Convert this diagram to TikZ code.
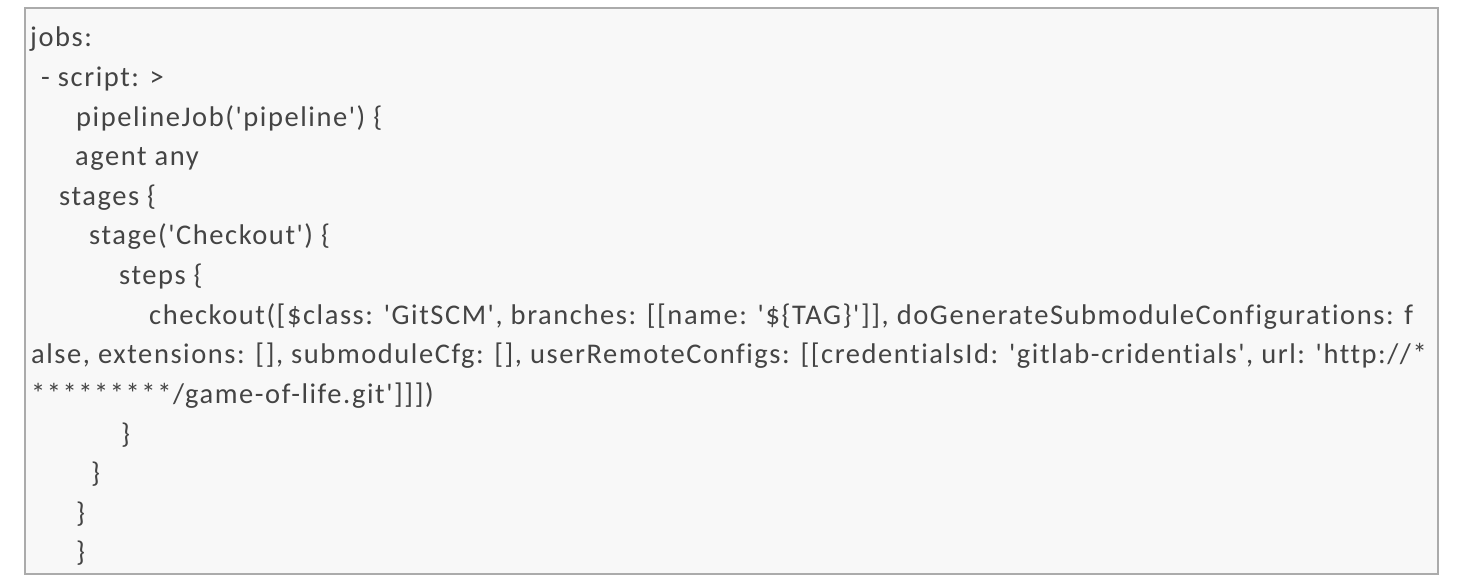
\documentclass[tikz,border=0pt]{standalone}
\usepackage{fontspec}
\newfontfamily\codefont{Carlito}[Ligatures={TeXOff,CommonOff}, LetterSpace=5.5]
\definecolor{bgfill}{HTML}{F8F8F8}
\definecolor{bordergray}{HTML}{ABABAB}
\definecolor{textgray}{HTML}{444444}
\tikzset{
  codeline/.style={anchor=base west, inner sep=0pt, text=textgray,
    font=\codefont\fontsize{28.5}{34}\selectfont},
  codebox/.style={draw=bordergray, line width=2pt, fill=bgfill}
}
\begin{document}
\begin{tikzpicture}[x=1pt,y=-1pt]
\useasboundingbox (0,0) rectangle (1468,588);
\draw[codebox] (25,8) rectangle (1438,574);
\node[codeline] (l0) at (30,47) {jobs:};
\node[codeline] (l1) at (41,86.6) {- script: >};
\node[codeline] (l2) at (76,126.2) {pipelineJob('pipeline') \{};
\node[codeline] (l3) at (75,165.8) {agent any};
\node[codeline] (l4) at (59,205.4) {stages \{};
\node[codeline] (l5) at (89,245) {stage('Checkout') \{};
\node[codeline] (l6) at (119,284.6) {steps \{};
\node[codeline] (l7) at (149,324.2) {checkout([\$class: 'GitSCM', branches: [[name: '\$\{TAG\}']], doGenerateSubmoduleConfigurations: f};
\node[codeline] (l8) at (31,363.8) {alse, extensions: [], submoduleCfg: [], userRemoteConfigs: [[credentialsId: 'gitlab-cridentials', url: 'http://*};
\node[codeline] (l9) at (31,403.4) {*********/game-of-life.git']]])};
\node[codeline] (l10) at (121,443) {\}};
\node[codeline] (l11) at (91,482.6) {\}};
\node[codeline] (l12) at (76,522.2) {\}};
\node[codeline] (l13) at (76,561.8) {\}};
\end{tikzpicture}
\end{document}
